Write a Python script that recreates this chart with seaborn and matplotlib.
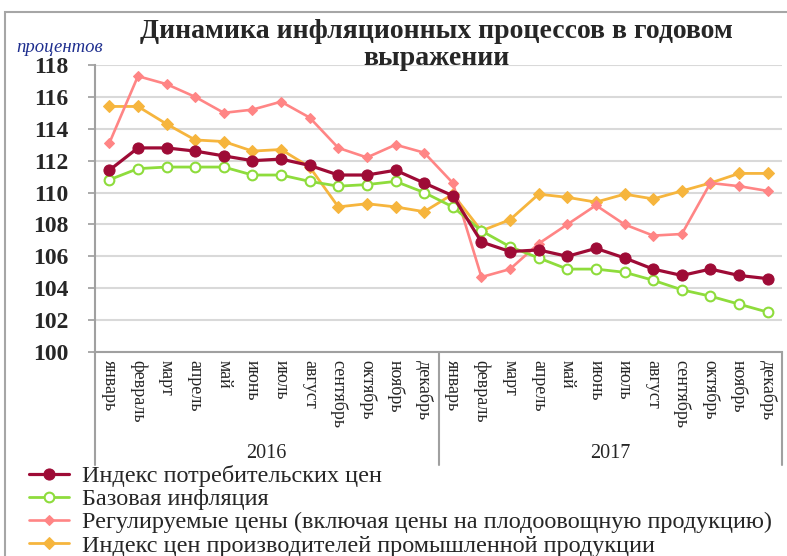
import matplotlib
matplotlib.use("Agg")
import matplotlib.pyplot as plt
import matplotlib.transforms as mtransforms
from matplotlib.patches import Rectangle
from matplotlib.font_manager import FontProperties
import seaborn as sns
import pandas as pd

months = ["январь", "февраль", "март", "апрель", "май", "июнь", "июль",
          "август", "сентябрь", "октябрь", "ноябрь", "декабрь"]
years = ["2016", "2017"]

cpi = [111.4, 112.8, 112.8, 112.6, 112.3, 112.0, 112.1, 111.7, 111.1, 111.1, 111.4, 110.6,
       109.8, 106.9, 106.3, 106.4, 106.0, 106.5, 105.9, 105.2, 104.8, 105.2, 104.8, 104.6]
core = [110.8, 111.5, 111.6, 111.6, 111.6, 111.1, 111.1, 110.7, 110.4, 110.5, 110.7, 110.0,
        109.1, 107.6, 106.6, 105.9, 105.2, 105.2, 105.0, 104.5, 103.9, 103.5, 103.0, 102.5]
regulated = [113.1, 117.3, 116.8, 116.0, 115.0, 115.2, 115.7, 114.7, 112.8, 112.2, 113.0, 112.5,
             110.6, 104.7, 105.2, 106.8, 108.0, 109.2, 108.0, 107.3, 107.4, 110.6, 110.4, 110.1]
ppi = [115.4, 115.4, 114.3, 113.3, 113.2, 112.6, 112.7, 111.6, 109.1, 109.3, 109.1, 108.8,
       109.9, 107.6, 108.3, 109.9, 109.7, 109.4, 109.9, 109.6, 110.1, 110.6, 111.2, 111.2]

series_names = ["Индекс потребительских цен",
                "Базовая инфляция",
                "Регулируемые цены (включая цены на плодоовощную продукцию)",
                "Индекс цен производителей промышленной продукции"]
colors = ["#9E0B36", "#8EDC3C", "#FF8585", "#F6B53D"]

sns.set_theme(style="white")
plt.rcParams['font.family'] = ['Liberation Serif', 'DejaVu Serif']

W, H = 787, 556
fig = plt.figure(figsize=(W / 100, H / 100), dpi=100)
ax = fig.add_axes([95 / W, 1 - 352 / H, (782 - 95) / W, (352 - 65) / H])

n = len(months) * len(years)
x = list(range(n))
df = pd.DataFrame({"x": x, "cpi": cpi, "core": core, "reg": regulated, "ppi": ppi})

sns.lineplot(data=df, x="x", y="ppi", ax=ax, color=colors[3], lw=2.0, marker="D",
             markersize=6, markeredgecolor=colors[3], label=series_names[3], zorder=3)
sns.lineplot(data=df, x="x", y="reg", ax=ax, color=colors[2], lw=1.9, marker="D",
             markersize=5.5, markeredgecolor=colors[2], label=series_names[2], zorder=4)
sns.lineplot(data=df, x="x", y="core", ax=ax, color=colors[1], lw=2.0, marker="o",
             markersize=7, markerfacecolor="white", markeredgecolor=colors[1],
             markeredgewidth=1.5, label=series_names[1], zorder=5)
sns.lineplot(data=df, x="x", y="cpi", ax=ax, color=colors[0], lw=2.3, marker="o",
             markersize=8, markeredgecolor=colors[0], label=series_names[0], zorder=6)

ax.set_xlim(-0.5, n - 0.5)
ax.set_ylim(100, 118)
ax.set_yticks(range(100, 119, 2))
ax.set_yticklabels([str(v) for v in range(100, 119, 2)], fontsize=17, fontweight="bold")
ax.yaxis.grid(True, color="#D9D9D9", lw=1.5)
ax.xaxis.grid(False)
ax.set_xlabel("")
ax.set_ylabel("")
ax.set_xticks(x)
ax.set_xticklabels(months * len(years), rotation=270, fontsize=13, va="top", ha="center")
ax.tick_params(axis="x", length=0, pad=6)
ax.tick_params(axis="y", length=5, color="#A0A0A0", left=True, pad=14)
for s in ["top", "right"]:
    ax.spines[s].set_visible(False)
ax.spines["left"].set_color("#A0A0A0")
ax.spines["left"].set_linewidth(1.5)
ax.spines["bottom"].set_color("#A0A0A0")
ax.spines["bottom"].set_linewidth(1.5)

trans = mtransforms.blended_transform_factory(ax.transData, ax.transAxes)
y_low = -(465 - 352) / (352 - 65)
for xv in [-0.5, 11.5, 23.5]:
    ax.plot([xv, xv], [0, y_low], transform=trans, color="#A0A0A0", lw=1.5, clip_on=False)
for i, yr in enumerate(years):
    ax.text(i * 12 + 5.5, -(453 - 352) / (352 - 65), yr, transform=trans,
            ha="center", va="center", fontsize=14.5)

handles, labels = ax.get_legend_handles_labels()
order = [labels.index(nm) for nm in series_names]
leg_font = FontProperties(family=["Liberation Serif", "DejaVu Serif"], size=17.5)
ax.legend([handles[i] for i in order], [labels[i] for i in order],
          loc="upper left", bbox_to_anchor=(29 / W, 1 - 465 / H),
          bbox_transform=fig.transFigure, frameon=False, prop=leg_font,
          handlelength=1.65, labelspacing=0.05, borderaxespad=0, handletextpad=0.55,
          borderpad=0)

fig.text(436 / W, 1 - 45 / H, "Динамика инфляционных процессов в годовом\nвыражении",
         ha="center", va="center", fontsize=20, fontweight="bold", linespacing=1.08)
fig.text(16 / W, 1 - 47 / H, "процентов", fontsize=13.5, style="italic", color="#1F2F8F",
         ha="left", va="center")

fig.patches.append(Rectangle((5 / W, -0.02), 1.0, 1 - 12 / H + 0.02, transform=fig.transFigure,
                             fill=False, edgecolor="#A6A6A6", lw=1.5))

fig.savefig("out.png", dpi=100)
